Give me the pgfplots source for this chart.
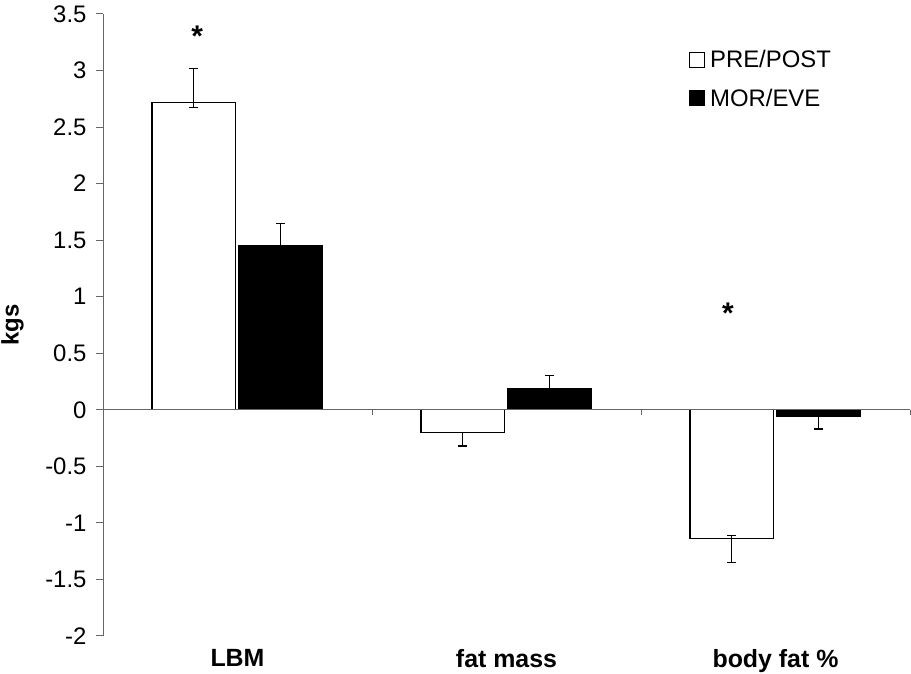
\documentclass[border=0pt]{standalone}
\usepackage{fontspec}
\setmainfont{Liberation Sans}
\usepackage{pgfplots}
\pgfplotsset{compat=1.18}

\begin{document}
\begin{tikzpicture}
\begin{axis}[
  at={(103bp,38bp)}, anchor=south west,
  scale only axis, width=807bp, height=622bp,
  clip=false,
  xmin=-0.5, xmax=2.5, ymin=-2, ymax=3.5,
  axis y line*=left, axis x line*=bottom,
  x axis line style={draw=none},
  y axis line style={black!60, line width=1bp},
  ytick={-2,-1.5,...,3.5},
  yticklabels={-2,-1.5,-1,-0.5,0,0.5,1,1.5,2,2.5,3,3.5},
  ytick style={black!60, line width=1bp},
  tick align=outside, major tick length=7bp,
  xtick={0,1,2},
  xticklabels={LBM,fat mass,body fat \%},
  xtick style={draw=none},
  tick label style={font=\fontsize{24}{28}\selectfont},
  yticklabel style={xshift=-6bp},
  xticklabel style={font=\fontsize{25}{28}\selectfont\bfseries, yshift=-3bp},
  legend style={draw=none, fill=none, at={(rel axis cs:0.726,0.942)}, anchor=north west,
    font=\fontsize{24}{28}\selectfont, row sep=20bp, inner sep=0pt,
    nodes={inner xsep=5bp, inner ysep=0pt}},
  legend cell align=left,
  ybar, bar width=0.31,
  error bars/y dir=both, error bars/y explicit,
  error bars/error bar style={black, line width=1.2bp},
  error bars/error mark options={rotate=90, mark size=4.5bp, line width=1.2bp, black},
]
\addplot[draw=black, fill=white, line width=1.2bp, bar shift=-0.163,
  legend image code/.code={\draw[black, fill=white, line width=1bp] (0bp,-7.5bp) rectangle (15bp,7.5bp);}]
  coordinates {
  (0,2.72) += (0,0.30) -= (0,0.05)
  (1,-0.20) += (0,0) -= (0,0.12)
  (2,-1.14) += (0,0.03) -= (0,0.21)
};
\addlegendentry{PRE/POST}
\addplot[draw=black, fill=black, line width=1.2bp, bar shift=0.16,
  legend image code/.code={\draw[black, fill=black, line width=1bp] (0bp,-7.5bp) rectangle (15bp,7.5bp);}]
  coordinates {
  (0,1.45) += (0,0.20) -= (0,0)
  (1,0.19) += (0,0.11) -= (0,0)
  (2,-0.06) += (0,0.02) -= (0,0.11)
};
\addlegendentry{MOR/EVE}
% zero line with category ticks
\draw[black!60, line width=1bp] (axis cs:-0.5,0) -- (axis cs:2.5,0);
\draw[black!60, line width=1bp] (axis cs:0.5,0) -- ([yshift=-5bp]axis cs:0.5,0);
\draw[black!60, line width=1bp] (axis cs:1.5,0) -- ([yshift=-5bp]axis cs:1.5,0);
\draw[black!60, line width=1bp] (axis cs:2.5,0) -- ([yshift=-5bp]axis cs:2.5,0);
\node[anchor=north, inner sep=0pt, font=\fontsize{30}{34}\selectfont\bfseries] at (axis cs:-0.15,3.40) {*};
\node[anchor=north, inner sep=0pt, font=\fontsize{30}{34}\selectfont\bfseries] at (axis cs:1.823,0.947) {*};
\node[rotate=90, anchor=south, inner sep=0pt,
  font=\fontsize{24}{28}\selectfont\bfseries] at ([xshift=-79bp]rel axis cs:0,0.5) {kgs};
\end{axis}
\pgfresetboundingbox
\path (0,0) rectangle (911bp,674bp);
\end{tikzpicture}
\end{document}
